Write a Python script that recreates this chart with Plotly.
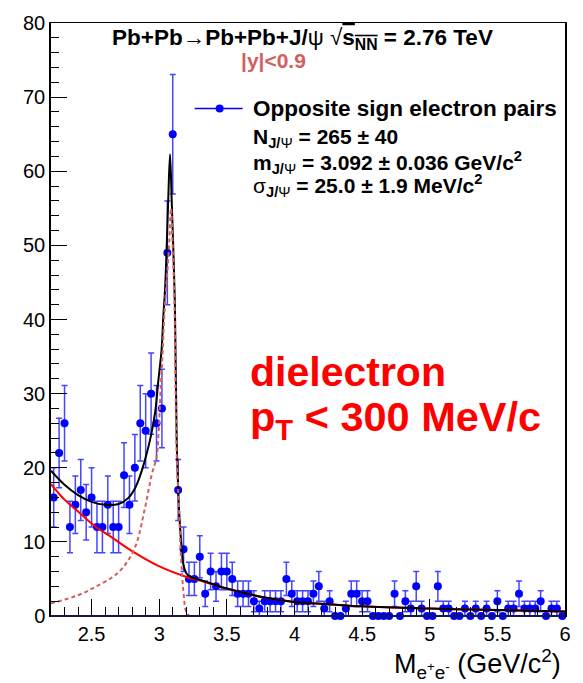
import numpy as np
import plotly.graph_objects as go

# ---------------- data ----------------
mass = [2.22, 2.26, 2.30, 2.34, 2.38, 2.42, 2.46, 2.50, 2.54, 2.58,
        2.62, 2.66, 2.70, 2.74, 2.78, 2.82, 2.86, 2.90, 2.94, 2.98,
        3.02, 3.06, 3.10, 3.14, 3.18, 3.22, 3.26, 3.30, 3.34, 3.38,
        3.42, 3.46, 3.50, 3.54, 3.58, 3.62, 3.66, 3.70, 3.74, 3.78,
        3.82, 3.86, 3.90, 3.94, 3.98, 4.02, 4.06, 4.10, 4.14, 4.18,
        4.22, 4.26, 4.30, 4.34, 4.38, 4.42, 4.46, 4.50, 4.54, 4.58,
        4.62, 4.66, 4.70, 4.74, 4.78, 4.82, 4.86, 4.90, 4.94, 4.98,
        5.02, 5.06, 5.10, 5.14, 5.18, 5.22, 5.26, 5.30, 5.34, 5.38,
        5.42, 5.46, 5.50, 5.54, 5.58, 5.62, 5.66, 5.70, 5.74, 5.78,
        5.82, 5.86, 5.90, 5.94, 5.98]
counts = [16, 22, 26, 12, 15, 17, 14, 16, 12, 12,
          15, 12, 12, 19, 15, 20, 26, 25, 30, 26,
          28, 49, 65, 17, 9, 5, 5, 8, 3, 6,
          4, 6, 6, 5, 3, 3, 3, 2, 1, 2,
          2, 2, 2, 5, 3, 2, 2, 2, 3, 4,
          1, 2, 0, 0, 1, 3, 3, 2, 2, 0,
          0, 0, 0, 3, 0, 2, 1, 4, 1, 0,
          0, 4, 1, 1, 0, 0, 1, 0, 1, 0,
          1, 0, 2, 0, 1, 1, 3, 1, 1, 1,
          2, 0, 1, 1, 0]
count_err = np.sqrt(np.array(counts, dtype=float))

# fitted curves
total_x = [2.20, 2.30, 2.40, 2.50, 2.60, 2.70, 2.77, 2.82, 2.86, 2.90,
           2.94, 2.97, 2.995, 3.018, 3.03, 3.043, 3.055, 3.067, 3.08, 3.092,
           3.104, 3.116, 3.129, 3.141, 3.153, 3.166, 3.178, 3.203, 3.24, 3.30,
           3.50, 3.75, 4.00, 4.25, 4.50, 5.00, 5.50, 6.00]
total_y = [19.6, 17.7, 16.3, 15.4, 15.0, 15.1, 15.9, 17.2, 19.0, 21.4,
           24.4, 27.5, 32.0, 36.0, 40.3, 44.0, 49.6, 56.3, 62.3, 56.3,
           49.6, 42.0, 24.0, 16.8, 12.3, 9.2, 7.0, 5.7, 5.2, 4.9,
           3.7, 2.6, 1.9, 1.6, 1.3, 1.0, 0.8, 0.6]

signal_x = [2.20, 2.40, 2.525, 2.65, 2.73, 2.82, 2.895, 2.944, 2.981, 2.993,
            3.013, 3.026, 3.037, 3.05, 3.072, 3.087, 3.100, 3.111, 3.129, 3.146,
            3.161, 3.178, 3.203, 3.23]
signal_y = [1.7, 2.8, 3.9, 5.2, 6.5, 9.2, 14.6, 19.0, 21.5, 24.0,
            31.4, 35.9, 40.3, 44.0, 49.6, 55.0, 49.6, 44.0, 22.0, 14.6,
            7.9, 3.5, 0.4, 0.0]

bg_x = [2.20, 2.30, 2.40, 2.525, 2.65, 2.77, 2.99, 3.215, 3.30, 3.50,
        3.75, 4.00, 4.25, 4.50, 5.00, 5.50, 6.00]
bg_y = [17.8, 15.7, 14.1, 12.1, 10.6, 9.1, 6.8, 5.2, 4.8, 3.7,
        2.6, 1.9, 1.6, 1.3, 1.0, 0.8, 0.6]

x_ticks = [2.5, 3.0, 3.5, 4.0, 4.5, 5.0, 5.5, 6.0]
x_ticktext = ["2.5", "3", "3.5", "4", "4.5", "5", "5.5", "6"]
y_ticks = [0, 10, 20, 30, 40, 50, 60, 70, 80]

# ---------------- layout helpers ----------------
W, H = 583, 683
L, R, T, B = 51, 17, 15, 67
PW, PH = W - L - R, H - T - B


def px(x):
    return (x - L) / PW


def py(y):
    return (H - B - y) / PH


FONT = "Liberation Sans, Arial, Helvetica, sans-serif"

fig = go.Figure()

fig.add_trace(go.Scatter(
    x=mass, y=counts, mode="markers",
    marker=dict(color="#0000ff", size=8, line=dict(width=0)),
    error_y=dict(type="data", array=count_err, visible=True,
                 color="#4646ff", thickness=1.5, width=3),
    cliponaxis=False, showlegend=False))

fig.add_trace(go.Scatter(x=bg_x, y=bg_y, mode="lines",
                         line=dict(color="#ff0000", width=2, shape="spline"),
                         showlegend=False))
fig.add_trace(go.Scatter(x=total_x, y=total_y, mode="lines",
                         line=dict(color="#000000", width=2, shape="spline"),
                         showlegend=False))
fig.add_trace(go.Scatter(x=signal_x, y=signal_y, mode="lines",
                         line=dict(color="#d45f5f", width=2, dash="4px,3px",
                                   shape="spline"),
                         showlegend=False))

annotations = []


def ann(text, x, y, size, color="black", xanchor="left", yanchor="middle"):
    annotations.append(dict(text=text, x=px(x), y=py(y), xref="paper", yref="paper",
                            xanchor=xanchor, yanchor=yanchor, showarrow=False,
                            font=dict(family=FONT, size=size, color=color)))


ann("<b>Pb+Pb→Pb+Pb+J/</b>ψ √<b><span style='text-decoration:overline'>s<sub>NN</sub></span> = 2.76 TeV</b>",
    303, 31, 22.5, xanchor="center")
ann("<b>|y|<0.9</b>", 274, 53, 21, color="#d45f5f", xanchor="center")
ann("<b>Opposite sign electron pairs</b>", 251, 102, 22.5)
ann("<b>N<sub>J/</sub></b><sub>Ψ</sub><b> = 265 ± 40</b>", 251, 132, 21)
ann("<b>m<sub>J/</sub></b><sub>Ψ</sub><b> = 3.092 ± 0.036 GeV/c<sup>2</sup></b>", 251, 156, 21)
ann("σ<b><sub>J/</sub></b><sub>Ψ</sub><b> = 25.0 ± 1.9 MeV/c<sup>2</sup></b>", 251, 180, 21)
ann("<b>dielectron</b>", 248, 369, 41, color="#ff0000")
ann("<b>p<sub>T</sub> < 300 MeV/c</b>", 248, 417, 41.5, color="#ff0000")
ann("M<sub>e<sup>+</sup>e<sup>-</sup></sub> (GeV/c<sup>2</sup>)", 564, 665, 27,
    xanchor="right")

shapes = [
    # legend glyph
    dict(type="line", xref="paper", yref="paper", x0=px(195), x1=px(243),
         y0=py(101.7), y1=py(101.7), line=dict(color="#0000ff", width=1.5)),
    dict(type="circle", xref="paper", yref="paper", x0=px(216), x1=px(224),
         y0=py(97.7), y1=py(105.7), fillcolor="#0000ff", line=dict(width=0)),
    # bottom axis line
    dict(type="line", xref="paper", yref="paper", x0=0, x1=1, y0=0, y1=0,
         line=dict(color="#161650", width=2)),
]

fig.update_layout(
    width=W, height=H,
    margin=dict(l=L, r=R, t=T, b=B, pad=0),
    paper_bgcolor="white", plot_bgcolor="white",
    font=dict(family=FONT, size=20, color="black"),
    annotations=annotations, shapes=shapes,
    showlegend=False,
)
fig.update_xaxes(range=[2.2, 6.0], tickvals=x_ticks, ticktext=x_ticktext,
                 ticks="inside", ticklen=17, tickwidth=1.2, tickcolor="black",
                 minor=dict(dtick=0.1, tick0=2.5, ticks="inside", ticklen=9,
                            tickwidth=1.2, tickcolor="black"),
                 showline=True, linecolor="black", linewidth=1, mirror=True,
                 showgrid=False, zeroline=False,
                 tickfont=dict(family=FONT, size=20, color="black"))
fig.update_yaxes(range=[0, 80], tickvals=y_ticks,
                 ticks="inside", ticklen=16, tickwidth=1.2, tickcolor="black",
                 minor=dict(dtick=2, tick0=0, ticks="inside", ticklen=8,
                            tickwidth=1.2, tickcolor="black"),
                 showline=True, linecolor="black", linewidth=1.5, mirror=True,
                 showgrid=False, zeroline=False,
                 tickfont=dict(family=FONT, size=20, color="black"))

fig.write_html("out.html")
